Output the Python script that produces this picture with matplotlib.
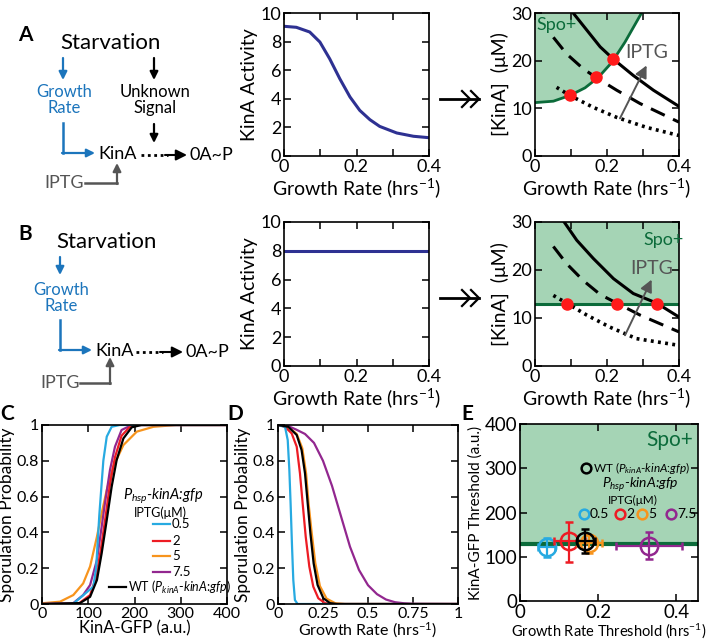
import numpy as np
import matplotlib
matplotlib.use("Agg")
import matplotlib.pyplot as plt
from matplotlib.ticker import MultipleLocator

plt.rcParams['font.family'] = ['Lato', 'DejaVu Sans']
plt.rcParams['mathtext.fontset'] = 'custom'
plt.rcParams['mathtext.rm'] = 'Lato'
plt.rcParams['mathtext.it'] = 'Lato:italic'
plt.rcParams['mathtext.bf'] = 'Lato:bold'

# ---- data ----
# A/B middle: KinA activity vs growth rate
a_act_x = [0, 0.034, 0.071, 0.099, 0.126, 0.154, 0.182, 0.209, 0.237, 0.264, 0.311, 0.357, 0.4]
a_act_y = [9.07, 9.0, 8.67, 7.97, 6.8, 5.4, 4.13, 3.19, 2.54, 2.07, 1.61, 1.38, 1.28]
b_act_x = [0, 0.4]
b_act_y = [8.0, 8.0]

# A right: Spo+ boundary and KinA levels for three IPTG doses
a_bnd_x = [0, 0.051, 0.097, 0.139, 0.176, 0.213, 0.25, 0.296]
a_bnd_y = [11.2, 11.5, 12.7, 14.3, 16.5, 19.6, 23.9, 30]
a_hi_x = [0.106, 0.144, 0.181, 0.218, 0.273, 0.329, 0.4]
a_hi_y = [30, 26.4, 22.9, 20.3, 16.9, 13.8, 10.4]
a_mid_x = [0.051, 0.088, 0.134, 0.169, 0.227, 0.292, 0.4]
a_mid_y = [24.9, 21.4, 18.3, 16.5, 13.8, 11.0, 7.1]
a_lo_x = [0.06, 0.097, 0.162, 0.227, 0.31, 0.4]
a_lo_y = [14.4, 12.7, 10.2, 8.1, 6.0, 4.3]
a_pts_x = [0.097, 0.169, 0.218]
a_pts_y = [12.7, 16.5, 20.3]

# B right
b_bnd = 13.0
b_hi_x = [0.081, 0.116, 0.162, 0.218, 0.273, 0.338, 0.4]
b_hi_y = [30, 26.2, 22.4, 18.2, 15.1, 13.1, 10.2]
b_mid_x = [0.051, 0.088, 0.134, 0.181, 0.227, 0.292, 0.4]
b_mid_y = [24.9, 21.3, 17.8, 14.9, 13.1, 10.6, 7.1]
b_lo_x = [0.051, 0.088, 0.144, 0.208, 0.282, 0.4]
b_lo_y = [14.7, 13.1, 10.6, 8.1, 5.7, 4.3]
b_pts_x = [0.088, 0.229, 0.338]
b_pts_y = [13.0, 13.0, 13.0]

# C: sporulation probability vs KinA-GFP
iptg_labels = ["0.5", "2", "5", "7.5"]
c_x = {
    "0.5": [0, 67.7, 111, 117, 124, 132.6, 140, 150.6, 168, 400],
    "2": [0, 80.7, 104, 117, 127, 137, 147, 157.8, 172, 190, 210, 400],
    "5": [0, 39, 67.7, 89, 104, 118.8, 129, 140, 154, 176, 205, 241, 290, 400],
    "7.5": [0, 67.7, 89, 104, 118.8, 129, 136, 147, 157.8, 172, 190, 200, 400],
    "WT": [0, 82, 104, 118.8, 129, 140, 150.6, 161.4, 176, 194, 215, 400],
}
c_y = {
    "0.5": [0, 0.002, 0.097, 0.2, 0.5, 0.8, 0.935, 0.99, 1, 1],
    "2": [0, 0.005, 0.05, 0.15, 0.3, 0.48, 0.67, 0.82, 0.94, 0.99, 1, 1],
    "5": [0.004, 0.013, 0.05, 0.115, 0.21, 0.376, 0.507, 0.637, 0.767, 0.888, 0.963, 0.99, 1, 1],
    "7.5": [0, 0.005, 0.05, 0.106, 0.246, 0.432, 0.562, 0.749, 0.879, 0.972, 0.995, 1, 1],
    "WT": [0, 0.005, 0.04, 0.134, 0.283, 0.469, 0.655, 0.804, 0.925, 0.987, 1, 1],
}

# D: sporulation probability vs growth rate
d_x = {
    "0.5": [0, 0.039, 0.054, 0.063, 0.07, 0.078, 0.085, 0.094, 0.109, 1],
    "2": [0, 0.039, 0.076, 0.104, 0.122, 0.137, 0.154, 0.174, 0.196, 0.224, 0.261, 0.3, 1],
    "5": [0, 0.057, 0.104, 0.135, 0.156, 0.17, 0.187, 0.207, 0.233, 0.27, 0.317, 0.372, 1],
    "7.5": [0, 0.05, 0.1, 0.15, 0.2, 0.25, 0.3, 0.35, 0.4, 0.45, 0.5, 0.55, 0.6, 0.65, 0.7, 0.75, 1],
    "WT": [0, 0.057, 0.104, 0.131, 0.15, 0.165, 0.18, 0.198, 0.22, 0.252, 0.289, 0.326, 1],
}
d_y = {
    "0.5": [1, 0.99, 0.916, 0.749, 0.562, 0.32, 0.134, 0.022, 0, 0],
    "2": [1, 0.99, 0.953, 0.879, 0.73, 0.562, 0.376, 0.209, 0.097, 0.032, 0.005, 0, 0],
    "5": [1, 0.99, 0.95, 0.87, 0.73, 0.56, 0.40, 0.23, 0.10, 0.03, 0.005, 0, 0],
    "7.5": [1, 0.997, 0.975, 0.95, 0.9, 0.8, 0.66, 0.49, 0.32, 0.19, 0.105, 0.055, 0.025, 0.01, 0.004, 0.001, 0],
    "WT": [1, 0.99, 0.944, 0.86, 0.73, 0.562, 0.395, 0.227, 0.106, 0.032, 0.005, 0, 0],
}

# E: thresholds (centre, lower, upper)
e_names = ["0.5", "2", "5", "7.5", "WT"]
e_gr = [0.068, 0.126, 0.176, 0.33, 0.166]
e_gr_lo = [0.047, 0.088, 0.145, 0.245, 0.145]
e_gr_hi = [0.089, 0.166, 0.21, 0.415, 0.191]
e_kin = [121, 135, 130, 125, 135.6]
e_kin_lo = [99, 87.5, 108, 94, 109]
e_kin_hi = [143, 179, 149, 155, 162]
e_thr = 128

colors = {"0.5": "#27aae1", "2": "#ed1c24", "5": "#f7941d", "7.5": "#92278f", "WT": "#000000"}
blue = "#1c75bc"
navy = "#2e3192"
green = "#0b6b3a"
spo_fill = "#a5d4b5"
gray = "#555555"

W, H = 709, 641
fig = plt.figure(figsize=(W / 100, H / 100), dpi=100)


def box(l, t, r, b):
    return [l / W, 1 - b / H, (r - l) / W, (b - t) / H]


def style(ax, fs):
    ax.tick_params(which='both', direction='in', top=True, right=True,
                   length=5, width=1.1, labelsize=fs, pad=2)
    for s in ax.spines.values():
        s.set_linewidth(1.2)


# overlay in pixel coordinates for the schematics
ov = fig.add_axes([0, 0, 1, 1])
ov.set_xlim(0, W)
ov.set_ylim(H, 0)
ov.axis('off')


def arrow(x0, y0, x1, y1, c, lw=1.6, ms=12):
    ov.annotate('', xy=(x1, y1), xytext=(x0, y0),
                arrowprops=dict(arrowstyle='-|>', color=c, lw=lw, mutation_scale=ms,
                                shrinkA=0, shrinkB=0))


# panel A schematic
ov.text(110, 43, "Starvation", fontsize=16, ha='center', va='center')
arrow(63, 58, 63, 80, blue)
ov.text(64, 100, "Growth\nRate", fontsize=12, color=blue, ha='center', va='center', linespacing=0.95)
arrow(154, 58, 154, 80, 'k')
ov.text(155, 100, "Unknown\nSignal", fontsize=12, ha='center', va='center', linespacing=0.95)
arrow(154, 124, 154, 143, 'k')
ov.plot([63, 63], [123, 153], color=blue, lw=1.8)
arrow(62, 153, 95, 153, blue)
ov.text(98, 154, "KinA", fontsize=13, ha='left', va='center')
ov.plot([141, 168], [155, 155], color='k', lw=2, ls=(0, (1, 1.3)))
arrow(165, 155, 187, 155, 'k', lw=1.5, ms=16)
ov.text(189, 155, "0A~P", fontsize=13, ha='left', va='center')
ov.text(44, 183, "IPTG", fontsize=13, color=gray, ha='left', va='center')
ov.plot([85, 117], [183, 183], color=gray, lw=1.8)
arrow(117, 184, 117, 163, gray)

# panel B schematic
ov.text(106, 242, "Starvation", fontsize=16, ha='center', va='center')
arrow(60, 257, 60, 275, blue)
ov.text(61, 298, "Growth\nRate", fontsize=12, color=blue, ha='center', va='center', linespacing=0.95)
ov.plot([60, 60], [320, 350], color=blue, lw=1.8)
arrow(59, 350, 92, 350, blue)
ov.text(95, 351, "KinA", fontsize=13, ha='left', va='center')
ov.plot([136, 163], [352, 352], color='k', lw=2, ls=(0, (1, 1.3)))
arrow(160, 352, 183, 352, 'k', lw=1.5, ms=16)
ov.text(185, 352, "0A~P", fontsize=13, ha='left', va='center')
ov.text(40, 383, "IPTG", fontsize=13, color=gray, ha='left', va='center')
ov.plot([80, 110], [383, 383], color=gray, lw=1.8)
arrow(110, 384, 110, 357, gray)

# double chevron arrows between middle and right panels
for yy in [99, 298]:
    ov.plot([440, 479], [yy, yy], color='k', lw=2)
    for xx in [470, 479]:
        ov.plot([xx - 8, xx, xx - 8], [yy - 8, yy, yy + 8], color='k', lw=1.6)

for lab, x, y in [("A", 25, 35), ("B", 25, 234), ("C", 7, 414), ("D", 235, 414), ("E", 467, 414)]:
    ov.text(x, y, lab, fontsize=15, fontweight='bold', ha='center', va='center')

gr_label = "Growth Rate (hrs$^{-1}$)"


def activity_panel(rect, xs, ys):
    ax = fig.add_axes(box(*rect))
    ax.plot(xs, ys, color=navy, lw=2.2)
    ax.set_xlim(0, 0.4)
    ax.set_ylim(0, 10)
    ax.set_xticks([0, 0.2, 0.4])
    ax.set_xticklabels(["0", "0.2", "0.4"])
    ax.xaxis.set_minor_locator(MultipleLocator(0.1))
    ax.set_yticks([0, 2, 4, 6, 8, 10])
    style(ax, 13)
    ax.set_xlabel(gr_label, fontsize=14, labelpad=1)
    ax.set_ylabel("KinA Activity", fontsize=14, labelpad=2)
    return ax


def kina_panel(rect):
    ax = fig.add_axes(box(*rect))
    ax.set_xlim(0, 0.4)
    ax.set_ylim(0, 30)
    ax.set_xticks([0, 0.2, 0.4])
    ax.set_xticklabels(["0", "0.2", "0.4"])
    ax.xaxis.set_minor_locator(MultipleLocator(0.1))
    ax.set_yticks([0, 10, 20, 30])
    style(ax, 13)
    ax.set_xlabel(gr_label, fontsize=14, labelpad=1)
    ax.set_ylabel("[KinA]  (μM)", fontsize=14, labelpad=2)
    return ax


# ---- A ----
activity_panel((284, 13, 429, 156), a_act_x, a_act_y)
ax = kina_panel((535, 13, 679, 156))
ax.fill_between(a_bnd_x, a_bnd_y, 30, color=spo_fill, lw=0)
ax.plot(a_bnd_x, a_bnd_y, color=green, lw=2)
ax.plot(a_hi_x, a_hi_y, color='k', lw=2.2)
ax.plot(a_mid_x, a_mid_y, color='k', lw=2.2, ls=(0, (5, 3)))
ax.plot(a_lo_x, a_lo_y, color='k', lw=2.6, ls=(0, (0.8, 1.2)))
ax.plot(a_pts_x, a_pts_y, 'o', color='#ff1a1a', ms=8, zorder=5)
ax.annotate('', xy=(0.31, 19), xytext=(0.236, 7.9),
            arrowprops=dict(arrowstyle='-|>', color=gray, lw=1.4, mutation_scale=18, shrinkA=0, shrinkB=0))
ax.text(0.31, 21.8, "IPTG", color=gray, fontsize=14, ha='center', va='center')
ax.text(0.06, 27.4, "Spo+", color=green, fontsize=13, ha='center', va='center')

# ---- B ----
activity_panel((284, 222, 429, 366), b_act_x, b_act_y)
ax = kina_panel((535, 222, 679, 366))
ax.axhspan(b_bnd, 30, color=spo_fill, lw=0)
ax.axhline(b_bnd, color=green, lw=2.2)
ax.plot(b_hi_x, b_hi_y, color='k', lw=2.2)
ax.plot(b_mid_x, b_mid_y, color='k', lw=2.2, ls=(0, (5, 3)))
ax.plot(b_lo_x, b_lo_y, color='k', lw=2.6, ls=(0, (0.8, 1.2)))
ax.plot(b_pts_x, b_pts_y, 'o', color='#ff1a1a', ms=8, zorder=5)
ax.annotate('', xy=(0.324, 18.0), xytext=(0.25, 6.4),
            arrowprops=dict(arrowstyle='-|>', color=gray, lw=1.4, mutation_scale=18, shrinkA=0, shrinkB=0))
ax.text(0.324, 20.3, "IPTG", color=gray, fontsize=14, ha='center', va='center')
ax.text(0.356, 26.2, "Spo+", color=green, fontsize=13, ha='center', va='center')

# ---- C ----
ax = fig.add_axes(box(42, 425, 227, 604))
for k in ["5", "7.5", "2", "0.5", "WT"]:
    ax.plot(c_x[k], c_y[k], color=colors[k], lw=1.6)
ax.set_xlim(0, 400)
ax.set_ylim(0, 1)
ax.set_xticks([0, 100, 200, 300, 400])
ax.set_yticks([0, 0.2, 0.4, 0.6, 0.8, 1])
ax.set_yticklabels(["0", "0.2", "0.4", "0.6", "0.8", "1"])
style(ax, 11.5)
ax.set_xlabel("KinA-GFP (a.u.)", fontsize=12, labelpad=0)
ax.set_ylabel("Sporulation Probability", fontsize=12.5, labelpad=1)
ax.text(0.654, 0.603, "$P_{hsp}$-kinA:gfp", style='italic', fontsize=10.5, transform=ax.transAxes,
        ha='center', va='center')
ax.text(0.638, 0.508, "IPTG(μM)", fontsize=9, transform=ax.transAxes, ha='center', va='center')
for k, yy in zip(iptg_labels, [0.447, 0.352, 0.268, 0.179]):
    ax.plot([0.6, 0.692], [yy, yy], color=colors[k], lw=1.6, transform=ax.transAxes)
    ax.text(0.703, yy, k, fontsize=9.5, transform=ax.transAxes, ha='left', va='center')
ax.plot([0.362, 0.454], [0.095, 0.095], color='k', lw=1.6, transform=ax.transAxes)
ax.text(0.465, 0.095, "WT ($P_{kinA}$-$\\mathit{kinA}$:$\\mathit{gfp}$)", fontsize=9,
        transform=ax.transAxes, ha='left', va='center')

# ---- D ----
ax = fig.add_axes(box(278, 425, 458, 604))
for k in ["5", "7.5", "2", "0.5", "WT"]:
    ax.plot(d_x[k], d_y[k], color=colors[k], lw=1.6)
ax.set_xlim(0, 1)
ax.set_ylim(0, 1)
ax.set_xticks([0, 0.25, 0.5, 0.75, 1])
ax.set_xticklabels(["0", "0.25", "0.5", "0.75", "1"])
ax.set_yticks([0, 0.2, 0.4, 0.6, 0.8, 1])
ax.set_yticklabels(["0", "0.2", "0.4", "0.6", "0.8", "1"])
style(ax, 11.5)
ax.set_xlabel(gr_label, fontsize=11.5, labelpad=0)
ax.set_ylabel("Sporulation Probability", fontsize=12.5, labelpad=1)

# ---- E ----
ax = fig.add_axes(box(520, 424, 698, 601))
ax.axhspan(e_thr, 400, color=spo_fill, lw=0)
ax.axhline(e_thr, color=green, lw=3)
for i, k in enumerate(e_names):
    ax.errorbar(e_gr[i], e_kin[i],
                xerr=[[e_gr[i] - e_gr_lo[i]], [e_gr_hi[i] - e_gr[i]]],
                yerr=[[e_kin[i] - e_kin_lo[i]], [e_kin_hi[i] - e_kin[i]]],
                fmt='o', mfc='none', mec=colors[k], ecolor=colors[k], ms=12.5, mew=1.8,
                elinewidth=1.6, capsize=3, capthick=1.6, zorder=4 + i)
ax.set_xlim(0, 0.455)
ax.set_ylim(0, 400)
ax.set_xticks([0, 0.2, 0.4])
ax.set_xticklabels(["0", "0.2", "0.4"])
ax.set_yticks([0, 100, 200, 300, 400])
style(ax, 13.5)
ax.set_xlabel("Growth Rate Threshold (hrs$^{-1}$)", fontsize=10.5, labelpad=0)
ax.set_ylabel("KinA-GFP Threshold (a.u.)", fontsize=11, labelpad=1)
ax.text(0.843, 0.91, "Spo+", color=green, fontsize=15, transform=ax.transAxes, ha='center', va='center')
ax.plot(0.369, 0.75, 'o', mfc='none', mec='k', mew=1.8, ms=7, transform=ax.transAxes)
ax.text(0.41, 0.75, "WT ($P_{kinA}$-$\\mathit{kinA}$:$\\mathit{gfp}$)", fontsize=8.5,
        transform=ax.transAxes, ha='left', va='center')
ax.text(0.674, 0.655, "$P_{hsp}$-kinA:gfp", style='italic', fontsize=10, transform=ax.transAxes,
        ha='center', va='center')
ax.text(0.635, 0.566, "IPTG(μM)", fontsize=8.5, transform=ax.transAxes, ha='center', va='center')
for k, xc, xt in zip(iptg_labels, [0.36, 0.562, 0.685, 0.848], [0.393, 0.596, 0.719, 0.882]):
    ax.plot(xc, 0.492, 'o', mfc='none', mec=colors[k], mew=1.8, ms=7, transform=ax.transAxes)
    ax.text(xt, 0.492, k, fontsize=10, transform=ax.transAxes, ha='left', va='center')

fig.savefig("out.png", dpi=100)
